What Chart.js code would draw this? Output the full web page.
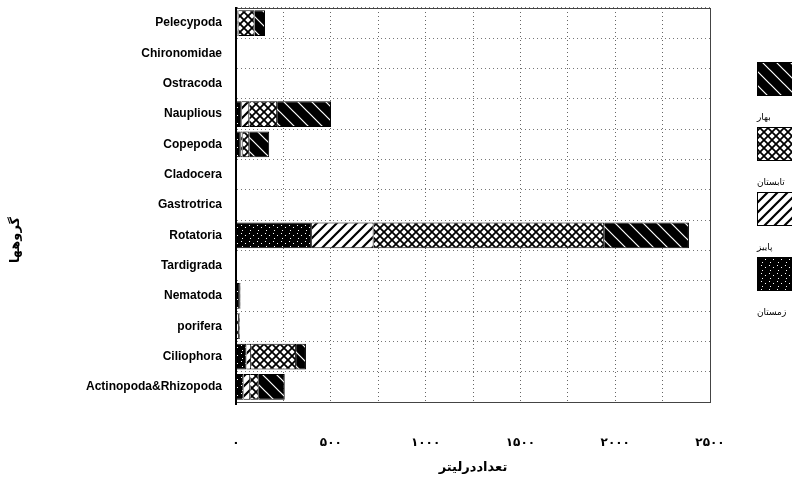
<!DOCTYPE html>
<html>
<head>
<meta charset="utf-8">
<script src="https://cdn.jsdelivr.net/npm/chart.js@4/dist/chart.umd.min.js"></script>
<style>
  html, body { margin: 0; padding: 0; background: #fff; }
  #wrap { width: 792px; height: 487px; }
</style>
</head>
<body>
<div id="wrap"><canvas id="myChart" width="792" height="487"></canvas></div>
<script>
// groups, top to bottom
var groups = ["Pelecypoda", "Chironomidae", "Ostracoda", "Nauplious", "Copepoda", "Cladocera",
  "Gastrotrica", "Rotatoria", "Tardigrada", "Nematoda", "porifera", "Ciliophora", "Actinopoda&Rhizopoda"];

// counts per litre
var winter = [8, 2, 2, 30, 25, 4, 2, 400, 3, 20, 5, 55, 40];
var autumn = [5, 0, 0, 40, 10, 0, 0, 326, 0, 3, 10, 25, 35];
var summer = [85, 0, 0, 147, 35, 0, 0, 1216, 0, 2, 5, 237, 45];
var spring = [55, 0, 0, 284, 105, 0, 0, 447, 0, 0, 0, 52, 137];

var seasonNames = ["زمستان", "پاییز", "تابستان", "بهار"];
var xTickLabels = ["۰", "۵۰۰", "۱۰۰۰", "۱۵۰۰", "۲۰۰۰", "۲۵۰۰"];
var xTitle = "تعداددرلیتر";
var yTitle = "گروهها";

function makePattern(kind){
    let c = document.createElement("canvas");
    let g = c.getContext("2d");
    if (kind == "dots") {
        c.width = c.height = 8;
        g.fillStyle = "#000"; g.fillRect(0, 0, 8, 8);
        g.fillStyle = "#fff";
        g.fillRect(1, 1, 1, 1); g.fillRect(5, 3, 1, 1); g.fillRect(2, 6, 1, 1);
    } else if (kind == "light") {
        c.width = c.height = 10;
        g.fillStyle = "#fff"; g.fillRect(0, 0, 10, 10);
        g.strokeStyle = "#000"; g.lineWidth = 2.2;
        g.beginPath();
        g.moveTo(-1, 11); g.lineTo(11, -1);
        g.moveTo(-3, 3); g.lineTo(3, -3);
        g.moveTo(7, 13); g.lineTo(13, 7);
        g.stroke();
    } else if (kind == "cross") {
        c.width = c.height = 8;
        g.fillStyle = "#fff"; g.fillRect(0, 0, 8, 8);
        g.strokeStyle = "#000"; g.lineWidth = 1.8;
        g.beginPath();
        g.moveTo(-1, -1); g.lineTo(9, 9);
        g.moveTo(-1, 9); g.lineTo(9, -1);
        g.stroke();
    } else {
        c.width = c.height = 14;
        g.fillStyle = "#000"; g.fillRect(0, 0, 14, 14);
        g.strokeStyle = "#fff"; g.lineWidth = 1.2;
        g.beginPath();
        g.moveTo(-1, -1); g.lineTo(15, 15);
        g.moveTo(-1, 13); g.lineTo(1, 15);
        g.moveTo(13, -1); g.lineTo(15, 1);
        g.stroke();
    }
    return g.createPattern(c, "repeat");
}

var fills = [makePattern("dots"), makePattern("light"), makePattern("cross"), makePattern("diag")];

// legend on the right: each swatch with its name under it, last series on top
var seasonLegend = {
    id: "seasonLegend",
    afterDraw(chart){
        let ctx = chart.ctx;
        let sets = chart.data.datasets;
        ctx.save();
        for (let i = 0; i < sets.length; i++) {
            let ds = sets[sets.length - 1 - i];
            let top = 62 + i * 65;
            ctx.fillStyle = ds.backgroundColor;
            ctx.fillRect(757, top, 40, 34);
            ctx.strokeStyle = "#000"; ctx.lineWidth = 1;
            ctx.strokeRect(757.5, top + 0.5, 40, 33);
            ctx.fillStyle = "#000";
            ctx.font = "9px 'DejaVu Sans'";
            ctx.textAlign = "left";
            ctx.textBaseline = "middle";
            ctx.fillText(ds.label, 757, top + 56);
        }
        // plot frame
        let a = chart.chartArea;
        ctx.strokeStyle = "#444"; ctx.lineWidth = 1;
        ctx.strokeRect(a.left + 0.5, a.top + 0.5, a.right - a.left, a.bottom - a.top);
        ctx.strokeStyle = "#000"; ctx.lineWidth = 2;
        ctx.beginPath(); ctx.moveTo(a.left, a.top); ctx.lineTo(a.left, a.bottom + 3); ctx.stroke();
        // vertical axis title
        ctx.translate(16, 240);
        ctx.rotate(-Math.PI / 2);
        ctx.font = "bold 13px 'DejaVu Sans'";
        ctx.textAlign = "center";
        ctx.textBaseline = "middle";
        ctx.fillText(yTitle, 0, 0);
        ctx.restore();
    }
};

new Chart("myChart", {
  type: "bar",
  data: {
    labels: groups,
    datasets: [winter, autumn, summer, spring].map(function(vals, i){
        return {
            label: seasonNames[i],
            data: vals,
            backgroundColor: fills[i],
            borderColor: "#000",
            borderWidth: 1,
            barPercentage: 0.85,
            categoryPercentage: 1
        };
    })
  },
  plugins: [seasonLegend],
  options: {
    indexAxis: "y",
    responsive: false,
    animation: false,
    layout: {padding: {top: 8, right: 82, left: 0, bottom: 0}},
    plugins: {legend: {display: false}, tooltip: {enabled: false}},
    scales: {
      x: {
        stacked: true,
        min: 0, max: 2500,
        afterFit: function(s){ s.height = 85; },
        ticks: {
          stepSize: 250,
          padding: 34,
          maxRotation: 0,
          autoSkip: false,
          color: "#000",
          font: {family: "DejaVu Sans", size: 12, weight: "bold"},
          callback: function(v){ return v % 500 == 0 ? xTickLabels[v / 500] : ""; }
        },
        grid: {color: "#666", lineWidth: 1, drawTicks: false},
        border: {display: true, color: "#000", width: 1, dash: [1, 3]},
        title: {display: true, text: xTitle, color: "#000",
          font: {family: "DejaVu Sans", size: 13, weight: "bold"}, padding: {top: 0, bottom: 12}}
      },
      y: {
        stacked: true,
        afterFit: function(s){ s.width = 236; s.paddingTop = 0; s.paddingBottom = 0; },
        ticks: {
          padding: 14,
          color: "#000",
          font: {family: "Liberation Sans", size: 12, weight: "bold"}
        },
        grid: {color: "#777", lineWidth: 1, drawTicks: false, offset: true},
        border: {display: true, color: "#000", width: 2, dash: [1, 3]}
      }
    }
  }
});
</script>
</body>
</html>
